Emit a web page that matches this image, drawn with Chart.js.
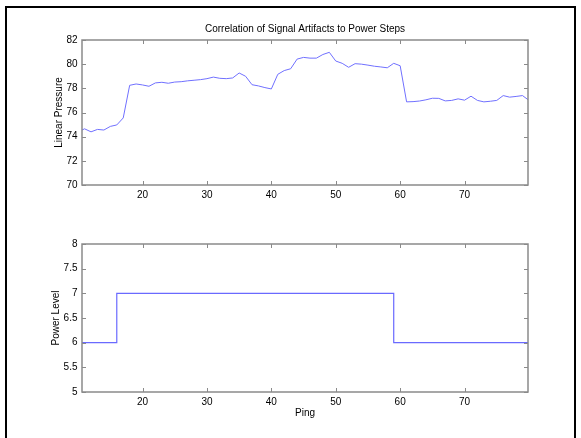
<!DOCTYPE html>
<html>
<head>
<meta charset="utf-8">
<script src="https://cdn.jsdelivr.net/npm/chart.js@4/dist/chart.umd.min.js"></script>
<style>
  html, body { margin: 0; padding: 0; background: #fff; overflow: hidden; }
  #wrap { position: relative; width: 581px; height: 438px; }
  #frame { position: absolute; left: 5px; top: 6px; width: 567px; height: 500px; border: 2px solid #000; }
  canvas { position: absolute; left: 0; top: 0; }
</style>
</head>
<body>
<div id="wrap">
  <div id="frame"></div>
  <canvas id="pressureChart" width="581" height="438"></canvas>
  <canvas id="powerChart" width="581" height="438"></canvas>
</div>
<script>
// data
const pings = [10, 11, 12, 13, 14, 15, 16, 17, 18, 19, 20, 21, 22, 23, 24, 25, 26, 27, 28, 29,
  30, 31, 32, 33, 34, 35, 36, 37, 38, 39, 40, 41, 42, 43, 44, 45, 46, 47, 48, 49,
  50, 51, 52, 53, 54, 55, 56, 57, 58, 59, 60, 61, 62, 63, 64, 65, 66, 67, 68, 69,
  70, 71, 72, 73, 74, 75, 76, 77, 78, 79, 80];

const linearPressure = [74.4, 74.65, 74.4, 74.6, 74.55, 74.85, 74.97, 75.55, 78.25, 78.36,
  78.28, 78.17, 78.45, 78.5, 78.42, 78.52, 78.55, 78.62, 78.67, 78.72,
  78.8, 78.93, 78.83, 78.8, 78.86, 79.27, 79.0, 78.3, 78.2, 78.06,
  77.95, 79.16, 79.47, 79.62, 80.42, 80.56, 80.5, 80.5, 80.8, 80.98,
  80.26, 80.07, 79.74, 80.04, 80.0, 79.92, 79.83, 79.77, 79.7, 80.07,
  79.87, 76.88, 76.9, 76.95, 77.05, 77.18, 77.17, 76.96, 77.0, 77.13,
  77.02, 77.35, 77.0, 76.88, 76.93, 77.0, 77.4, 77.27, 77.33, 77.4, 77.0];

const powerLevel = [6, 6, 6, 6, 6, 6, 7, 7, 7, 7, 7, 7, 7, 7, 7, 7, 7, 7, 7, 7,
  7, 7, 7, 7, 7, 7, 7, 7, 7, 7, 7, 7, 7, 7, 7, 7, 7, 7, 7, 7,
  7, 7, 7, 7, 7, 7, 7, 7, 7, 6, 6, 6, 6, 6, 6, 6, 6, 6, 6, 6,
  6, 6, 6, 6, 6, 6, 6, 6, 6, 6, 6];

const pressureTicks = [70, 72, 74, 76, 78, 80, 82];
const powerTicks = [5, 5.5, 6, 6.5, 7, 7.5, 8];
const pingTicks = [20, 30, 40, 50, 60, 70];

Chart.defaults.font.family = "'Liberation Sans', Arial, sans-serif";
Chart.defaults.font.size = 10;
Chart.defaults.color = "#000";

// matlab style box with inward ticks on all four sides
const boxPlugin = {
  id: "box",
  afterDraw(chart) {
    const { ctx, chartArea: a, scales } = chart;
    ctx.save();
    ctx.strokeStyle = "#8a8a8a";
    ctx.lineWidth = 1;
    ctx.beginPath();
    scales.x.ticks.forEach(t => {
      const px = Math.round(scales.x.getPixelForValue(t.value)) + 0.5;
      ctx.moveTo(px, a.top); ctx.lineTo(px, a.top + 4);
      ctx.moveTo(px, a.bottom); ctx.lineTo(px, a.bottom - 4);
    });
    scales.y.ticks.forEach(t => {
      const py = Math.round(scales.y.getPixelForValue(t.value)) + 0.5;
      ctx.moveTo(a.left, py); ctx.lineTo(a.left + 4, py);
      ctx.moveTo(a.right, py); ctx.lineTo(a.right - 4, py);
    });
    ctx.stroke();
    ctx.lineWidth = 1.5;
    ctx.strokeRect(a.left, a.top, a.right - a.left, a.bottom - a.top);
    ctx.restore();
  }
};

function xScale(showTitle, height) {
  return {
    type: "linear",
    min: 10.6,
    max: 79.85,
    grid: { display: false, drawTicks: false },
    border: { display: false },
    ticks: {
      stepSize: 10,
      includeBounds: false,
      padding: 4,
      maxRotation: 0,
      callback: v => v
    },
    afterBuildTicks: s => { s.ticks = pingTicks.map(v => ({ value: v })); },
    title: {
      display: showTitle,
      text: "Ping",
      font: { size: 10 },
      padding: { top: 0, bottom: 12.7 }
    },
    afterFit: s => { s.height = height; }
  };
}

function yScale(label, min, max, step, tickVals, titlePad) {
  return {
    min: min,
    max: max,
    grid: { display: false, drawTicks: false },
    border: { display: false },
    ticks: { stepSize: step, padding: 4.5, callback: v => v },
    afterBuildTicks: s => { s.ticks = tickVals.map(v => ({ value: v })); },
    title: {
      display: true,
      text: label,
      font: { size: 10 },
      padding: { top: titlePad, bottom: 0 }
    },
    afterFit: s => { s.width = 82; }
  };
}

new Chart(document.getElementById("pressureChart"), {
  type: "line",
  data: {
    datasets: [{
      data: pings.map((p, i) => ({ x: p, y: linearPressure[i] })),
      borderColor: "#7070ff",
      borderWidth: 1,
      pointRadius: 0,
      tension: 0
    }]
  },
  options: {
    responsive: false,
    animation: false,
    devicePixelRatio: 1,
    events: [],
    layout: { padding: { left: 0, right: 53, top: 0, bottom: 233 } },
    plugins: {
      legend: { display: false },
      tooltip: { enabled: false },
      title: {
        display: true,
        text: "Correlation of Signal Artifacts to Power Steps",
        fullSize: false,
        font: { size: 10, weight: "normal" },
        color: "#000",
        padding: { top: 23, bottom: 5 }
      }
    },
    scales: {
      x: xScale(false, 20),
      y: yScale("Linear Pressure", 70, 82, 2, pressureTicks, 53)
    }
  },
  plugins: [boxPlugin]
});

new Chart(document.getElementById("powerChart"), {
  type: "line",
  data: {
    datasets: [{
      data: pings.map((p, i) => ({ x: p, y: powerLevel[i] })),
      borderColor: "#6a6aff",
      borderWidth: 1.2,
      pointRadius: 0,
      stepped: "before"
    }]
  },
  options: {
    responsive: false,
    animation: false,
    devicePixelRatio: 1,
    events: [],
    layout: { padding: { left: 0, right: 53, top: 244, bottom: 6 } },
    plugins: {
      legend: { display: false },
      tooltip: { enabled: false }
    },
    scales: {
      x: xScale(true, 40),
      y: yScale("Power Level", 5, 8, 0.5, powerTicks, 50)
    }
  },
  plugins: [boxPlugin]
});
</script>
</body>
</html>
